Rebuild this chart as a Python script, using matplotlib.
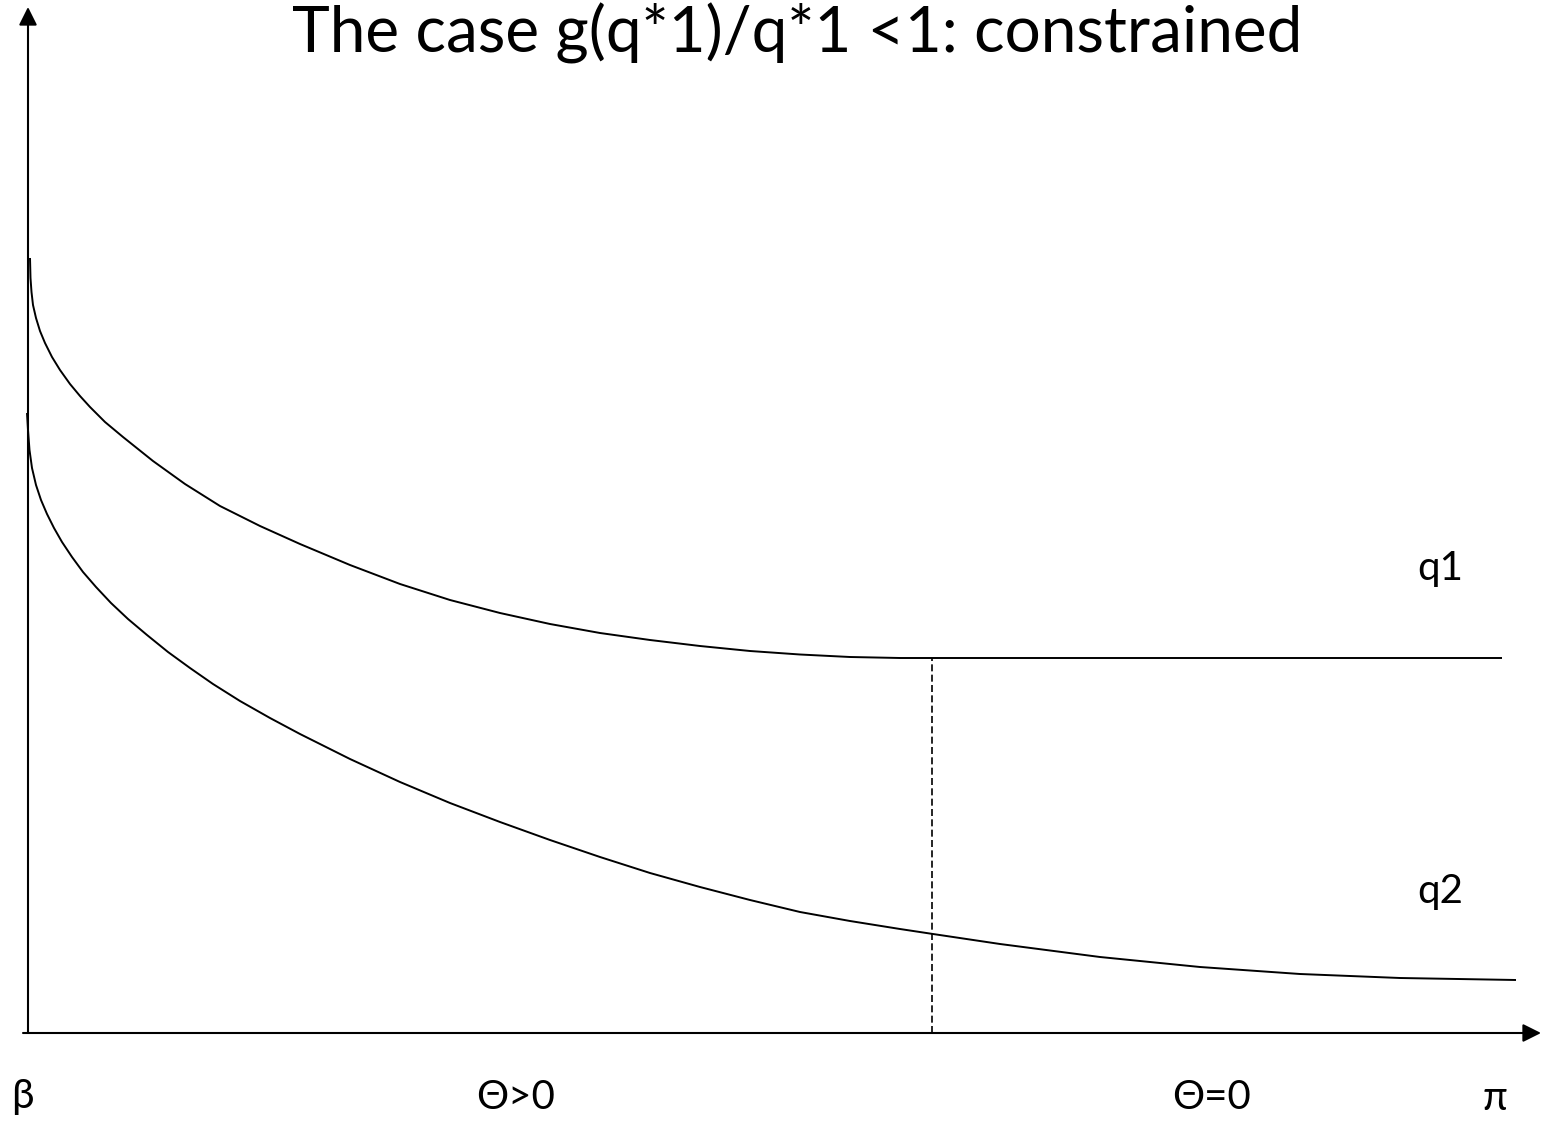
import matplotlib
matplotlib.use("Agg")
import matplotlib.pyplot as plt

plt.rcParams['font.family'] = ['Lato', 'DejaVu Sans']

# ---- data (schematic coordinates, origin at the axes' corner) ----
q1_x = [2, 2.5, 3.5, 5, 8, 12, 17, 24, 32, 42, 52, 62, 77, 95, 125, 157, 192, 232, 272,
        322, 372, 422, 472, 522, 572, 622, 672, 722, 772, 822, 872, 905, 1474]
q1_y = [775, 755, 741, 728, 715, 702, 690, 676, 663, 649, 637, 626, 611, 596, 572, 549, 527,
        507, 489, 468, 449, 433, 420, 409, 400, 393, 387, 382, 378.5, 376, 375, 375, 375]

q2_x = [-1, 0, 1.5, 4, 8, 13, 19, 26, 34, 44, 55, 68, 83, 100, 119, 140, 162, 185, 212, 242,
        272, 322, 372, 422, 472, 522, 572, 622, 672, 722, 772, 822, 872, 905, 972, 1072,
        1172, 1272, 1372, 1488]
q2_y = [620, 603, 583, 565, 548, 533, 519, 505, 491, 476, 461, 446, 430, 414, 398, 381, 365,
        349, 332, 315, 299, 274, 251, 230, 211, 193, 176, 160, 146, 133, 121, 112, 104, 99,
        89, 76, 66, 59, 55, 53]

threshold_x = 904
threshold_top = 375

curve_labels = ['q1', 'q2']
bottom_labels = ['β', 'Θ>0', 'Θ=0', 'π']
title = 'The case g(q*1)/q*1 <1: constrained'

# ---- figure ----
fig = plt.figure(figsize=(15.43, 11.24), dpi=100)
ax = fig.add_axes([0, 0, 1, 1])
ax.set_xlim(-28, 1515)
ax.set_ylim(-91, 1033)
ax.axis('off')

# axes with arrows
arrow_style = '-|>,head_length=1.1,head_width=0.55'
ax.annotate('', xy=(0, 1026), xytext=(0, 0),
            arrowprops=dict(arrowstyle=arrow_style, mutation_scale=10, lw=1.5,
                            color='black', shrinkA=0, shrinkB=0))
ax.annotate('', xy=(1513, 0), xytext=(-5, 0),
            arrowprops=dict(arrowstyle=arrow_style, mutation_scale=10, lw=1.5,
                            color='black', shrinkA=0, shrinkB=0))

# curves
ax.plot(q1_x, q1_y, color='black', lw=1.4, solid_capstyle='butt', solid_joinstyle='round')
ax.plot(q2_x, q2_y, color='black', lw=1.4, solid_capstyle='butt', solid_joinstyle='round')

# dashed threshold
ax.plot([threshold_x, threshold_x], [0, threshold_top], color='black', lw=1.2,
        dashes=(4.2, 2.0))

# texts
ax.text(769, 980, title, fontsize=46, ha='center', va='baseline')
ax.text(1412, 453, curve_labels[0], fontsize=29, ha='center', va='baseline')
ax.text(1412, 130, curve_labels[1], fontsize=29, ha='center', va='baseline')
ax.text(-6, -75, bottom_labels[0], fontsize=29, ha='center', va='baseline')
ax.text(488, -76, bottom_labels[1], fontsize=29, ha='center', va='baseline')
ax.text(1183, -76, bottom_labels[2], fontsize=29, ha='center', va='baseline')
ax.text(1467, -77, bottom_labels[3], fontsize=29, ha='center', va='baseline')

fig.savefig('out.png', dpi=100)
